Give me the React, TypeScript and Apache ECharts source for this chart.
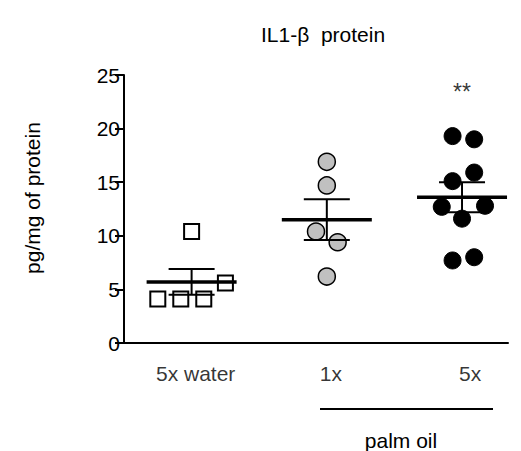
import React, { useEffect, useRef } from "react";
import * as echarts from "echarts";

const categories = ["5x water", "1x", "5x"];
const categoryX = [1, 2, 3];
const categoryLabelX = [1.03, 2.03, 3.06];

const waterX = [0.75, 0.92, 1.09, 1.25, 1.0];
const waterY = [4.1, 4.1, 4.1, 5.6, 10.4];

const palm1X = [2.0, 2.0, 1.92, 2.08, 2.0];
const palm1Y = [16.9, 14.7, 10.4, 9.4, 6.2];

const palm5X = [2.93, 3.09, 2.93, 3.09, 2.85, 3.17, 3.0, 2.93, 3.09];
const palm5Y = [19.3, 19.0, 15.1, 15.9, 12.7, 12.8, 11.6, 7.7, 8.0];

const groupMean = [5.7, 11.5, 13.6];
const groupSem = [1.2, 1.9, 1.4];

const yTicks = [0, 5, 10, 15, 20, 25];
const significance = { x: 3, y: 23.4, text: "**" };

const FONT = "'Liberation Sans', Arial, Helvetica, sans-serif";
const FS = 21;

export default function App() {
  const ref = useRef<HTMLDivElement>(null);

  useEffect(() => {
    if (!ref.current) return;
    const chart = echarts.init(ref.current, undefined, { renderer: "svg" });

    const zip = (xs: number[], ys: number[]) => xs.map((x, i) => [x, ys[i]]);

    const option: any = {
      animation: false,
      backgroundColor: "#ffffff",
      textStyle: { fontFamily: FONT },
      title: {
        text: "IL1-β  protein",
        left: 248,
        top: 11,
        textStyle: { fontFamily: FONT, fontSize: FS, fontWeight: "normal", color: "#000" },
      },
      grid: { left: 116, right: 21, top: 67, bottom: 116, containLabel: false },
      xAxis: {
        type: "value",
        min: 0.5,
        max: 3.34,
        axisLine: { show: true, onZero: false, lineStyle: { color: "#000", width: 2 } },
        axisTick: { show: false },
        axisLabel: { show: false },
        splitLine: { show: false },
      },
      yAxis: {
        type: "value",
        min: yTicks[0],
        max: yTicks[yTicks.length - 1],
        interval: 5,
        axisLine: { show: true, lineStyle: { color: "#000", width: 2 } },
        axisTick: { show: true, length: 9, lineStyle: { color: "#000", width: 2 } },
        axisLabel: { color: "#000", fontSize: FS, fontFamily: FONT, margin: 4 },
        splitLine: { show: false },
      },
      graphic: [
        {
          type: "text",
          x: 24,
          y: 190,
          rotation: Math.PI / 2,
          style: {
            text: "pg/mg of protein",
            fontSize: FS,
            fontFamily: FONT,
            fill: "#000",
            textAlign: "center",
            textVerticalAlign: "middle",
          },
        },
        {
          type: "line",
          shape: { x1: 312, y1: 401, x2: 485, y2: 401 },
          style: { stroke: "#000", lineWidth: 2 },
        },
        {
          type: "text",
          x: 393,
          y: 432,
          style: {
            text: "palm oil",
            fontSize: FS,
            fontFamily: FONT,
            fill: "#000",
            textAlign: "center",
            textVerticalAlign: "middle",
          },
        },
      ],
      series: [
        {
          type: "scatter",
          data: zip(waterX, waterY),
          symbol: "rect",
          symbolSize: 15,
          itemStyle: { color: "#ffffff", borderColor: "#000", borderWidth: 2, opacity: 1 },
          z: 3,
        },
        {
          type: "scatter",
          data: zip(palm1X, palm1Y),
          symbol: "circle",
          symbolSize: 17,
          itemStyle: { color: "#c0c0c0", borderColor: "#000", borderWidth: 1.5, opacity: 1 },
          z: 3,
        },
        {
          type: "scatter",
          data: zip(palm5X, palm5Y),
          symbol: "circle",
          symbolSize: 17,
          itemStyle: { color: "#000", borderColor: "#000", borderWidth: 1, opacity: 1 },
          z: 3,
        },
        {
          type: "custom",
          z: 5,
          data: categoryX.map((x, i) => [x, groupMean[i], groupSem[i]]),
          renderItem: (params: any, api: any) => {
            const x = api.value(0);
            const m = api.value(1);
            const s = api.value(2);
            const c = api.coord([x, m]);
            const top = api.coord([x, m + s]);
            const bot = api.coord([x, m - s]);
            const ls = { stroke: "#000", lineWidth: 2 };
            return {
              type: "group",
              children: [
                { type: "line", shape: { x1: c[0], y1: top[1], x2: c[0], y2: bot[1] }, style: ls },
                { type: "line", shape: { x1: c[0] - 23, y1: top[1], x2: c[0] + 23, y2: top[1] }, style: ls },
                { type: "line", shape: { x1: c[0] - 23, y1: bot[1], x2: c[0] + 23, y2: bot[1] }, style: ls },
                {
                  type: "line",
                  shape: { x1: c[0] - 45, y1: c[1], x2: c[0] + 45, y2: c[1] },
                  style: { stroke: "#000", lineWidth: 3.5 },
                },
              ],
            };
          },
        },
        {
          type: "scatter",
          data: categoryLabelX.map((x, i) => ({ value: [x, 0], name: categories[i] })),
          symbolSize: 1,
          itemStyle: { color: "rgba(0,0,0,0)" },
          silent: true,
          label: {
            show: true,
            position: "bottom",
            distance: 19,
            formatter: (p: any) => p.name,
            fontSize: FS,
            fontFamily: FONT,
            color: "#000",
          },
          z: 1,
        },
        {
          type: "scatter",
          data: [[significance.x, significance.y]],
          symbolSize: 1,
          itemStyle: { color: "rgba(0,0,0,0)" },
          silent: true,
          label: {
            show: true,
            position: "inside",
            formatter: significance.text,
            fontSize: 23,
            fontFamily: FONT,
            color: "#000",
          },
        },
      ],
    };

    chart.setOption(option);
    return () => chart.dispose();
  }, []);

  return <div ref={ref} style={{ width: 521, height: 451 }} />;
}
